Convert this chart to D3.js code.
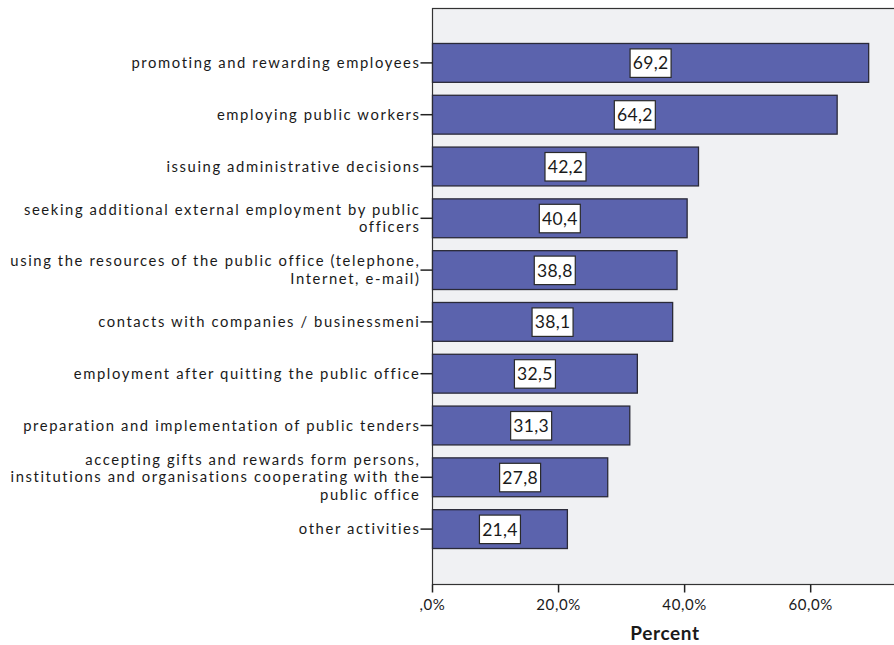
<!DOCTYPE html>
<html>
<head>
<meta charset="utf-8">
<script src="https://cdn.jsdelivr.net/npm/d3@7"></script>
<style>
  html, body { margin: 0; padding: 0; background: #ffffff; }
  svg { display: block; }
  text { font-family: Lato, "Open Sans", sans-serif; fill: #1a1a1a; }
</style>
</head>
<body>
<svg id="chart" width="894" height="645"></svg>
<script>
// Activities and share of respondents (percent)
const categories = [
  ["promoting and rewarding employees"],
  ["employing public workers"],
  ["issuing administrative decisions"],
  ["seeking additional external employment by public", "officers"],
  ["using the resources of the public office (telephone,", "Internet, e-mail)"],
  ["contacts with companies / businessmeni"],
  ["employment after quitting the public office"],
  ["preparation and implementation of public tenders"],
  ["accepting gifts and rewards form persons,", "institutions and organisations cooperating with the", "public office"],
  ["other activities"]
];
const values = [69.2, 64.2, 42.2, 40.4, 38.8, 38.1, 32.5, 31.3, 27.8, 21.4];
const xTicks = [0, 20, 40, 60];
const xTickLabels = [",0%", "20,0%", "40,0%", "60,0%"];
const axisTitle = "Percent";

const svg = d3.select("#chart");
const plotLeft = 432.5, plotTop = 8.5, plotBottom = 584.5, plotRight = 900;

const x = d3.scaleLinear().domain([0, 74.5]).range([plotLeft, plotLeft + 74.5 * 6.303]);
const y = d3.scaleBand()
  .domain(d3.range(values.length))
  .range([37, 555])
  .paddingInner(0.25)
  .paddingOuter(0.125);

// panel background
svg.append("rect")
  .attr("x", plotLeft).attr("y", plotTop)
  .attr("width", plotRight - plotLeft).attr("height", plotBottom - plotTop)
  .attr("fill", "#f0f1f3")
  .attr("stroke", "#333").attr("stroke-width", 1.2);

// bars
svg.append("g").selectAll("rect")
  .data(values)
  .join("rect")
  .attr("x", x(0))
  .attr("y", (d, i) => y(i))
  .attr("width", d => x(d) - x(0))
  .attr("height", y.bandwidth())
  .attr("fill", "#5b63ad")
  .attr("stroke", "#2a2a38")
  .attr("stroke-width", 1.3);

// value labels in white boxes
const lab = svg.append("g").selectAll("g")
  .data(values)
  .join("g")
  .attr("transform", (d, i) => `translate(${(x(0) + x(d)) / 2},${y(i) + y.bandwidth() / 2})`);
lab.append("rect")
  .attr("x", -20.5).attr("y", -14)
  .attr("width", 41).attr("height", 28.5)
  .attr("fill", "#ffffff")
  .attr("stroke", "#2a2a2a").attr("stroke-width", 1.2);
lab.append("text")
  .attr("text-anchor", "middle")
  .attr("dy", "0.37em")
  .attr("font-size", 17.5)
  .attr("letter-spacing", "0.3px")
  .text(d => d.toFixed(1).replace(".", ","));

// y axis ticks and category labels
const yAxis = svg.append("g");
yAxis.selectAll("line")
  .data(values)
  .join("line")
  .attr("x1", plotLeft - 12).attr("x2", plotLeft)
  .attr("y1", (d, i) => y(i) + y.bandwidth() / 2)
  .attr("y2", (d, i) => y(i) + y.bandwidth() / 2)
  .attr("stroke", "#222").attr("stroke-width", 1.5);
const lineH = 17.8;
yAxis.selectAll("text")
  .data(categories)
  .join("text")
  .attr("text-anchor", "end")
  .attr("font-size", 14.8)
  .attr("letter-spacing", "1.6px")
  .attr("transform", (d, i) => `translate(${plotLeft - 12},${y(i) + y.bandwidth() / 2 - (d.length - 1) * lineH / 2})`)
  .each(function(d) {
    d3.select(this).selectAll("tspan")
      .data(d)
      .join("tspan")
      .attr("x", 0)
      .attr("y", (t, k) => k * lineH)
      .attr("dy", "0.35em")
      .text(t => t);
  });

// x axis
const xAxis = svg.append("g");
xAxis.selectAll("line")
  .data(xTicks)
  .join("line")
  .attr("x1", d => x(d)).attr("x2", d => x(d))
  .attr("y1", plotBottom).attr("y2", plotBottom + 8)
  .attr("stroke", "#222").attr("stroke-width", 1.5);
xAxis.selectAll("text")
  .data(xTicks)
  .join("text")
  .attr("x", d => x(d))
  .attr("y", 610)
  .attr("text-anchor", "middle")
  .attr("font-size", 15)
  .attr("letter-spacing", "0.6px")
  .text((d, i) => xTickLabels[i]);

svg.append("text")
  .attr("x", 665)
  .attr("y", 640)
  .attr("text-anchor", "middle")
  .attr("font-size", 19)
  .attr("font-weight", "bold")
  .attr("letter-spacing", "0.6px")
  .text(axisTitle);
</script>
</body>
</html>
